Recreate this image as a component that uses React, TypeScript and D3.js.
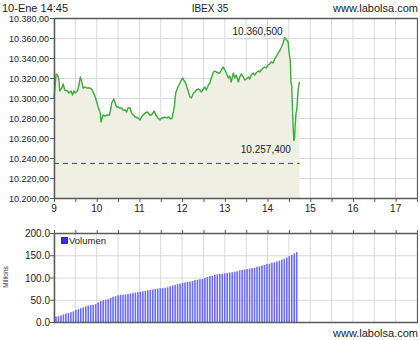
import React from "react";
import * as d3 from "d3";

// Price series: minutes after 9:00 and IBEX 35 value
const priceMinutes = [0,3,5,7,8,11,13,15,19,21,24,26,28,30,33,35,37,39,41,44,46,50,53,55,58,60,62,65,66,68,69,72,75,78,80,81,84,86,88,90,93,95,97,100,102,104,107,109,114,118,121,123,128,131,135,137,141,143,146,149,151,153,156,158,161,164,166,169,171,174,177,179,181,183,185,188,191,193,196,198,200,203,205,207,210,212,214,217,219,221,224,226,228,231,233,235,238,240,242,245,247,249,252,254,256,259,261,263,266,268,270,273,275,277,280,282,284,287,289,291,294,296,298,301,303,305,308,310,312,315,317,319,322,324,326,329,330,332,333,334,335,336,337,338,339,340,341,342,343,344,345];
const priceValues = [10300,10324,10323,10318,10307,10310,10314,10308,10307,10305,10307,10303,10307,10305,10307,10313,10321,10316,10310,10311,10310,10310,10309,10306,10301,10296,10291,10285,10276,10281,10283,10282,10283,10283,10290,10295,10299,10295,10291,10291,10290,10290,10288,10288,10286,10290,10290,10285,10281,10280,10278,10281,10285,10286,10283,10283,10287,10283,10280,10278,10280,10280,10281,10280,10281,10279,10280,10291,10305,10311,10315,10318,10320,10317,10315,10308,10301,10300,10305,10306,10308,10309,10308,10306,10309,10311,10308,10313,10315,10320,10326,10327,10326,10325,10325,10328,10331,10328,10325,10320,10322,10316,10325,10320,10323,10316,10321,10324,10321,10318,10319,10321,10319,10323,10325,10323,10325,10327,10326,10328,10330,10331,10330,10333,10334,10336,10335,10339,10341,10345,10347,10350,10355,10360.5,10359,10356,10347,10337,10315,10313,10291,10270,10257.4,10260,10275,10285,10288,10298,10308,10313,10316];
const prevClose = 10234.6;
const maxLabel = "10.360,500";
const minLabel = "10.257,400";

// Cumulative volume (millions)
const volume = [12,13,15,17,19,20,22,24,27,29,31,33,35,37,38,39,40,44,47,49,50,51,54,57,58,60,61,61,62,63,64,65,66,67,68,69,70,71,72,73,74,75,76,76,77,78,80,82,83,85,86,88,89,90,91,92,94,95,96,97,99,101,103,104,106,107,108,108,109,110,111,112,113,114,116,117,118,119,120,121,122,124,125,127,128,130,131,133,134,136,138,140,142,145,148,151,154,157];

const priceTicks = [10200,10220,10240,10260,10280,10300,10320,10340,10360,10380];
const volTicks = [0,50,100,150,200];
const hourLabels = [9,10,11,12,13,14,15,16,17];

const fmtPrice = (v: number) => {
  const s = v.toFixed(2).replace(".", ",");
  const [i, dec] = s.split(",");
  return i.replace(/\B(?=(\d{3})+(?!\d))/g, ".") + "," + dec;
};

export default function App() {
  const L = 54, R = 417;
  const x = d3.scaleLinear().domain([0, 510]).range([L, R]);
  const y = d3.scaleLinear().domain([10200, 10380]).range([198, 18]);
  const yv = d3.scaleLinear().domain([0, 200]).range([322, 233]);
  const xi = d3.scaleLinear().domain([0, volume.length - 1]).range([x(2.8), x(341)]);

  const halfHours = d3.range(0, 511, 30);
  const pts = priceMinutes.map((m, i) => [m, priceValues[i]] as [number, number]);
  const line = d3.line<[number, number]>().x(d => x(d[0])).y(d => y(d[1]));
  const area = d3.area<[number, number]>().x(d => x(d[0])).y0(y(10200)).y1(d => y(d[1]));

  const font = "Liberation Sans, Arial, sans-serif";
  const grid = "#d9d9d9";
  const frame = "#5a5a5a";

  const imax = priceValues.indexOf(d3.max(priceValues)!);
  const imin = priceValues.indexOf(d3.min(priceValues)!);

  return (
    <svg width={420} height={340} style={{ position: "absolute", left: 0, top: 0, background: "#fff" }} fontFamily={font}>
      {/* header */}
      <text x={2} y={12} fontSize={11} fill="#222">10-Ene 14:45</text>
      <text x={210} y={12} fontSize={10} fill="#222" textAnchor="middle">IBEX 35</text>
      <text x={418} y={12} fontSize={11} fill="#222" textAnchor="end">www.labolsa.com</text>

      {/* price chart grid */}
      {halfHours.map(m => (
        <line key={"vg" + m} x1={x(m)} x2={x(m)} y1={y(10380)} y2={y(10200)} stroke={grid} strokeWidth={1} />
      ))}
      {priceTicks.map(t => (
        <line key={"hg" + t} x1={L} x2={R} y1={y(t) + 0.5} y2={y(t) + 0.5} stroke={grid} strokeWidth={1} />
      ))}
      <path d={area(pts)!} fill="#efefe3" />
      <line x1={L} x2={x(345)} y1={y(prevClose)} y2={y(prevClose)} stroke="#3535c8" strokeWidth={1} strokeDasharray="5,4" />
      <path d={line(pts)!} fill="none" stroke="#3dab3d" strokeWidth={1.4} strokeLinejoin="round" />
      <text x={x(priceMinutes[imax]) - 2} y={y(priceValues[imax]) - 3} fontSize={10} fill="#222" textAnchor="end">{maxLabel}</text>
      <text x={x(priceMinutes[imin]) - 3} y={y(priceValues[imin]) + 12} fontSize={10} fill="#222" textAnchor="end">{minLabel}</text>

      {/* price frame */}
      <rect x={L + 0.5} y={y(10380) + 0.5} width={R - L} height={y(10200) - y(10380)} fill="none" stroke={frame} strokeWidth={1} />
      <line x1={L + 0.5} x2={L + 0.5} y1={y(10380)} y2={y(10200) + 1} stroke={frame} strokeWidth={1.5} />
      <line x1={L} x2={R + 1} y1={y(10200) + 0.5} y2={y(10200) + 0.5} stroke={frame} strokeWidth={1.5} />
      <line x1={L} x2={R + 1} y1={y(10380) + 0.5} y2={y(10380) + 0.5} stroke={frame} strokeWidth={1.5} />
      {priceTicks.map(t => (
        <g key={"yt" + t}>
          <line x1={L - 4} x2={L} y1={y(t) + 0.5} y2={y(t) + 0.5} stroke={frame} />
          <text x={L - 5} y={y(t) + 3.5} fontSize={9} fill="#222" textAnchor="end">{fmtPrice(t)}</text>
        </g>
      ))}
      {halfHours.map(m => (
        <line key={"xt" + m} x1={x(m) + 0.5} x2={x(m) + 0.5} y1={y(10200)} y2={y(10200) + 4} stroke={frame} />
      ))}
      {hourLabels.map(h => (
        <text key={"xl" + h} x={x((h - 9) * 60)} y={212} fontSize={10} fill="#222" textAnchor="middle">{h}</text>
      ))}

      {/* volume chart grid */}
      {halfHours.map(m => (
        <line key={"vvg" + m} x1={x(m)} x2={x(m)} y1={yv(200)} y2={yv(0)} stroke={grid} strokeWidth={1} />
      ))}
      {volTicks.map(t => (
        <line key={"vhg" + t} x1={L} x2={R} y1={yv(t) + 0.5} y2={yv(t) + 0.5} stroke={grid} strokeWidth={1} />
      ))}
      {volume.map((v, i) => (
        <rect key={"b" + i} x={xi(i) - 0.8} y={yv(v)} width={1.6} height={yv(0) - yv(v)} fill="#6b6bff" />
      ))}
      <rect x={L + 0.5} y={yv(200) + 0.5} width={R - L} height={yv(0) - yv(200)} fill="none" stroke={frame} strokeWidth={1} />
      <line x1={L + 0.5} x2={L + 0.5} y1={yv(200)} y2={yv(0) + 1} stroke={frame} strokeWidth={1.5} />
      <line x1={L} x2={R + 1} y1={yv(0) + 0.5} y2={yv(0) + 0.5} stroke={frame} strokeWidth={1.5} />
      <line x1={L} x2={R + 1} y1={yv(200) + 0.5} y2={yv(200) + 0.5} stroke={frame} strokeWidth={1.5} />
      {halfHours.map(m => (
        <line key={"vxt" + m} x1={x(m) + 0.5} x2={x(m) + 0.5} y1={yv(200) - 3} y2={yv(200)} stroke={frame} />
      ))}
      {volTicks.map(t => (
        <g key={"vyt" + t}>
          <line x1={L - 4} x2={L} y1={yv(t) + 0.5} y2={yv(t) + 0.5} stroke={frame} />
          <text x={L - 4} y={yv(t) + 4} fontSize={10} fill="#222" textAnchor="end">{t.toFixed(1)}</text>
        </g>
      ))}
      <text transform="translate(8,277) rotate(-90)" fontSize={6.5} fill="#333" textAnchor="middle">Millions</text>
      {/* legend */}
      <rect x={61.5} y={237.5} width={6} height={6} fill="#3333ff" stroke="#222" strokeWidth={0.8} />
      <text x={69} y={244} fontSize={9.5} fill="#222">Volumen</text>

      <text x={418} y={337} fontSize={11} fill="#222" textAnchor="end">www.labolsa.com</text>
    </svg>
  );
}
